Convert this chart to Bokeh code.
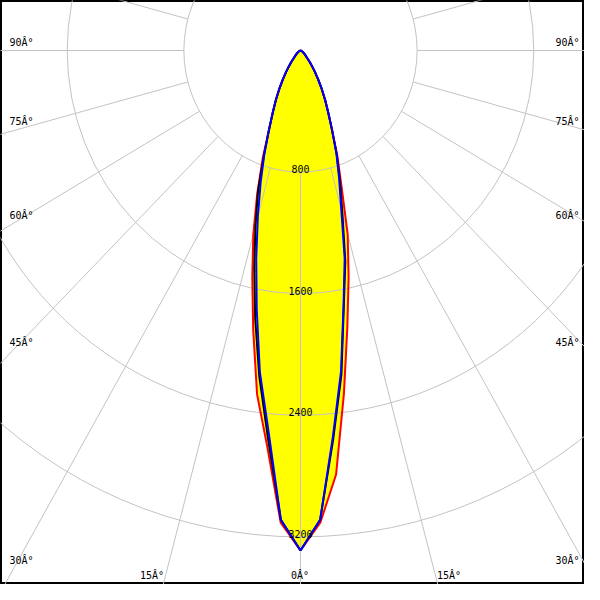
import numpy as np
from bokeh.plotting import figure
from bokeh.models import Range1d
from bokeh.embed import file_html
from bokeh.resources import INLINE
from bokeh.core.properties import value

# ---- data (luminous intensity, cd, vs gamma angle from nadir, deg) ----
angles = [0, 2.5, 5, 7.5, 10, 12.5, 15, 17.5, 20, 22.5, 25, 27.5, 30, 32.5,
          35, 37.5, 40, 45, 50, 55, 60, 70, 80, 90]
tail = [565, 450, 365, 290, 225, 172, 130, 97, 55, 35, 25, 16, 6, 2, 0]
red_left = [3289, 3110, 2616, 2282, 1868, 1528, 1250, 987, 760] + tail
red_right = [3289, 3110, 2800, 2280, 1850, 1525, 1250, 935, 740] + tail
black_left = [3289, 3090, 2560, 2164, 1790, 1464, 1192, 968, 735] + tail
black_right = [3289, 3090, 2570, 2150, 1710, 1420, 1110, 900, 725] + tail
blue_left = [3289, 3090, 2516, 2135, 1729, 1403, 1130, 908, 725] + tail
blue_right = [3289, 3090, 2550, 2130, 1700, 1400, 1080, 880, 720] + tail

rings = [800, 1600, 2400, 3200]
ring_labels = ["800", "1600", "2400", "3200"]
spoke_angles = list(range(0, 360, 15))
angle_labels = ["0Â°", "15Â°", "30Â°", "45Â°", "60Â°", "75Â°", "90Â°"]

# ---- layout ----
W = H = 584
SX, SY = 0.1458, 0.152          # px per cd (horizontal, vertical)
CX, CY = 300, 50                # pole position in frame pixels
GRID = "#c3c3c3"
FONT = value("DejaVu Sans Mono")

p = figure(width=W, height=H, output_backend="svg", toolbar_location=None,
           x_range=Range1d(-CX / SX, (W - CX) / SX),
           y_range=Range1d(-(H - CY) / SY, CY / SY),
           min_border=0, background_fill_color="white")
p.axis.visible = False
p.grid.visible = False
p.outline_line_color = "black"
p.outline_line_width = 3


def curve(left, right):
    a = np.radians(np.array(angles, dtype=float))
    L = np.array(left, dtype=float)
    R = np.array(right, dtype=float)
    xl, yl = -L * np.sin(a), -L * np.cos(a)
    xr, yr = R * np.sin(a), -R * np.cos(a)
    xs = np.concatenate([xl[::-1], xr[1:]])
    ys = np.concatenate([yl[::-1], yr[1:]])
    return xs, ys


curves = [("red", curve(red_left, red_right)),
          ("black", curve(black_left, black_right)),
          ("blue", curve(blue_left, blue_right))]

# yellow fills
for _, (xs, ys) in curves:
    p.patch(xs, ys, fill_color="#ffff00", line_color=None)

# grid: spokes starting on the first ring
rmax = 8000
sx0, sy0, sx1, sy1 = [], [], [], []
for ang in spoke_angles:
    t = np.radians(ang)
    sx0.append(rings[0] * np.sin(t)); sy0.append(-rings[0] * np.cos(t))
    sx1.append(rmax * np.sin(t)); sy1.append(-rmax * np.cos(t))
p.segment(sx0, sy0, sx1, sy1, line_color=GRID, line_width=1)
p.ellipse(x=[0] * len(rings), y=[0] * len(rings),
          width=[2 * r for r in rings], height=[2 * r for r in rings],
          fill_color=None, line_color=GRID, line_width=1)

# curves
for col, (xs, ys) in curves:
    p.line(xs, ys, line_color=col, line_width=2)

# ring labels
p.text(x=[0] * len(rings), y=[-r for r in rings], text=ring_labels,
       text_font=FONT, text_font_size="10px", text_color="black",
       text_align="center", text_baseline="alphabetic", y_offset=-3)


def px(xr, yr):
    return (xr - CX) / SX, -(yr - CY) / SY


# angle labels placed along the picture border
side_pos = {90: 42, 75: 121, 60: 215, 45: 342, 30: 560}
lx, ly, lt = [], [], []
rx, ry, rt = [], [], []
for ang, yy in side_pos.items():
    lbl = angle_labels[ang // 15]
    x, y = px(9, yy); lx.append(x); ly.append(y); lt.append(lbl)
    x, y = px(W - 5, yy); rx.append(x); ry.append(y); rt.append(lbl)
p.text(x=lx, y=ly, text=lt, text_font=FONT, text_font_size="10px",
       text_align="left", text_baseline="middle", text_color="black")
p.text(x=rx, y=ry, text=rt, text_font=FONT, text_font_size="10px",
       text_align="right", text_baseline="middle", text_color="black")
bx, by, bt = [], [], []
for xx, lbl in [(151.5, angle_labels[1]), (299.5, angle_labels[0]), (448.5, angle_labels[1])]:
    x, y = px(xx, H - 9); bx.append(x); by.append(y); bt.append(lbl)
p.text(x=bx, y=by, text=bt, text_font=FONT, text_font_size="10px",
       text_align="center", text_baseline="middle", text_color="black")

open("out.html", "w").write(file_html(p, INLINE))
